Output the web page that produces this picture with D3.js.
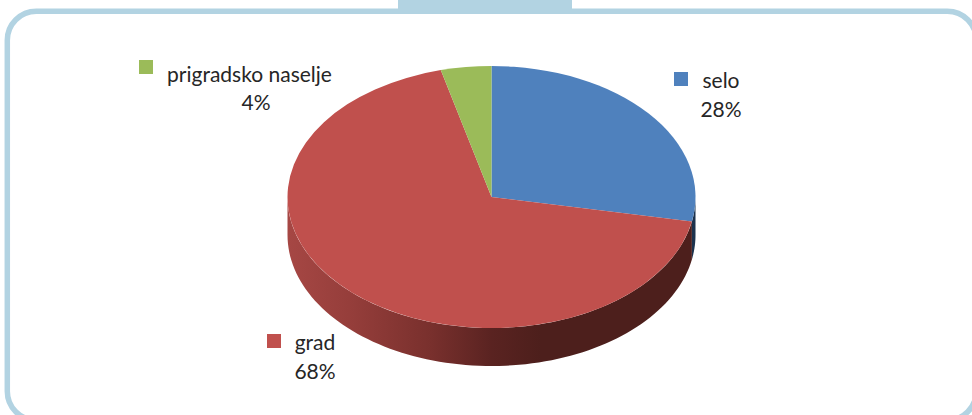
<!DOCTYPE html>
<html><head><meta charset="utf-8">
<script src="https://cdn.jsdelivr.net/npm/d3@7/dist/d3.min.js"></script>
<style>html,body{margin:0;padding:0;background:#fff;overflow:hidden}svg{display:block}
text{font-family:"Lato","Open Sans",sans-serif;font-size:21px;fill:#262626}</style>
</head><body>
<script>
const categories = ["selo", "grad", "prigradsko naselje"];
const values = [28, 68, 4];
const colors = ["#4f81bd", "#c0504d", "#9bbb59"];
const percentLabels = ["28%", "68%", "4%"];

const W = 972, H = 415;
const cx = 491.5, cy = 197, rx = 204, ry = 131, depth = 38;
const frame = "#b2d3e2";

const svg = d3.select("body").append("svg").attr("width", W).attr("height", H);
const defs = svg.append("defs");

// Frame and the header tab
svg.append("rect").attr("x", 7.3).attr("y", 11.2).attr("width", 969).attr("height", 409)
  .attr("rx", 29).attr("ry", 29).attr("fill", "#fff").attr("stroke", frame).attr("stroke-width", 5.5);
svg.append("rect").attr("x", 398).attr("y", 0).attr("width", 174).attr("height", 14).attr("fill", frame);

const pie = d3.pie().sort(null).startAngle(0).endAngle(2 * Math.PI);
const arcs = pie(values);
const arc = d3.arc().innerRadius(0).outerRadius(rx);
const yScale = ry / rx;

// Horizontal shading of the side wall
const grad = defs.append("linearGradient").attr("id", "sideRed")
  .attr("gradientUnits", "userSpaceOnUse")
  .attr("x1", cx - rx).attr("x2", cx + rx).attr("y1", 0).attr("y2", 0);
[[0, "#a64744"], [0.15, "#963e3b"], [0.35, "#79302d"], [0.5, "#5a2321"], [0.62, "#4d1f1c"], [1, "#4d1f1c"]]
  .forEach(([o, c]) => grad.append("stop").attr("offset", o).attr("stop-color", c));
const sideFill = ["#1c324d", "url(#sideRed)", "#5f7335"];

// Side wall: visible lower half of each slice
const ex = a => cx + rx * Math.sin(a);
const ey = a => cy - ry * Math.cos(a);
const sidePath = d => {
  const a0 = Math.max(d.startAngle, Math.PI / 2);
  const a1 = Math.min(d.endAngle, 3 * Math.PI / 2);
  if (a1 <= a0) return null;
  const n = 90;
  const as = d3.range(n + 1).map(i => a0 + (a1 - a0) * i / n);
  const pts = as.map(a => [ex(a), ey(a)]).concat(as.slice().reverse().map(a => [ex(a), ey(a) + depth]));
  return d3.line()(pts) + "Z";
};
svg.append("g").selectAll("path").data(arcs).join("path")
  .attr("d", sidePath)
  .attr("fill", (d, i) => sideFill[i]);

// Top face
svg.append("g").attr("transform", `translate(${cx},${cy}) scale(1,${yScale})`)
  .selectAll("path").data(arcs).join("path")
  .attr("d", arc)
  .attr("fill", (d, i) => colors[i]);

// Labels, each with a colour key
const keyX = [674, 267, 139], keyY = [72, 334, 60];
const nameX = [721, 315, 249.5], nameY = [88, 350, 82], pctY = [117, 379, 110];
const labels = svg.append("g").selectAll("g").data(categories).join("g");
labels.append("rect")
  .attr("x", (d, i) => keyX[i]).attr("y", (d, i) => keyY[i])
  .attr("width", 14).attr("height", 14)
  .attr("fill", (d, i) => colors[i]);
labels.append("text")
  .attr("x", (d, i) => nameX[i]).attr("y", (d, i) => nameY[i])
  .attr("text-anchor", "middle").text(d => d);
labels.append("text")
  .attr("x", (d, i) => i === 2 ? 256 : nameX[i]).attr("y", (d, i) => pctY[i])
  .attr("text-anchor", "middle").text((d, i) => percentLabels[i]);
</script>
</body></html>
